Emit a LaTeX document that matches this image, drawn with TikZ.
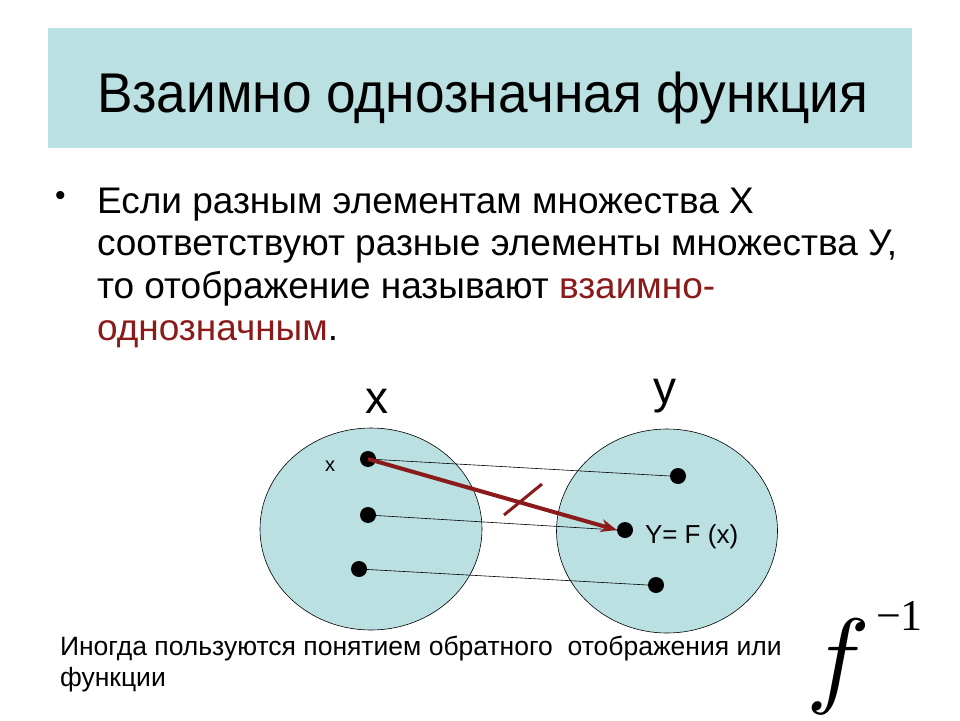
\documentclass[tikz,border=0pt]{standalone}
\usepackage{fontspec}
\usetikzlibrary{shapes.geometric,arrows.meta}
\setmainfont{Liberation Sans}
\newfontfamily\timesf{Liberation Serif}
\definecolor{teal1}{HTML}{BAE0E1}
\definecolor{dred}{HTML}{8B1A1A}
\begin{document}
\begin{tikzpicture}[x=1pt,y=-1pt,
  txt/.style={anchor=base west,inner sep=0pt,outer sep=0pt},
  dotn/.style={circle,fill=black,inner sep=0pt,minimum size=16pt},
  setell/.style={ellipse,draw=black,fill=teal1,line width=0.6pt,inner sep=0pt},
  mapline/.style={draw=black,line width=0.6pt}]
\useasboundingbox (0,0) rectangle (960,720);
\fill[white] (0,0) rectangle (960,720);
% title
\fill[teal1] (48,28) rectangle (912,148);
\node[txt] (title) at (97,112) {\addfontfeature{FakeStretch=0.95}\fontsize{56}{60}\selectfont Взаимно однозначная функция};
% bullet
\node[txt] (bul) at (55,205) {\fontsize{30}{36}\selectfont •};
\node[txt] (l1) at (97,213) {\fontsize{37}{42}\selectfont Если разным элементам множества X};
\node[txt] (l2) at (97,255) {\fontsize{37}{42}\selectfont соответствуют разные элементы множества У,};
\node[txt] (l3) at (97,298) {\fontsize{37}{42}\selectfont то отображение называют \textcolor{dred}{взаимно-}};
\node[txt] (l4) at (97,340) {\fontsize{37}{42}\selectfont \textcolor{dred}{однозначным}.};
% sets
\node[setell,minimum width=222pt,minimum height=202pt] (X) at (371,529) {};
\node[setell,minimum width=221pt,minimum height=204pt] (Y) at (667,531) {};
\node[inner sep=0pt] (xl) at (377,401) {\fontsize{46}{50}\selectfont x};
\node[inner sep=0pt] (yl) at (665,396) {\fontsize{46}{50}\selectfont y};
% dots
\node[dotn] (d1) at (368,459) {};
\node[dotn] (d2) at (368,515) {};
\node[dotn] (d3) at (359,569) {};
\node[dotn] (e1) at (678,476) {};
\node[dotn] (e2) at (625,530) {};
\node[dotn] (e3) at (656,585) {};
\node[inner sep=0pt] (xs) at (330,466) {\fontsize{20}{24}\selectfont x};
\node[txt] (fx) at (645,543) {\fontsize{26}{28}\selectfont Y= F (x)};
% maps
\draw[mapline] (d1.center) -- (e1.west);
\draw[mapline] (d2.center) -- (e2.west);
\draw[mapline] (d3.center) -- (e3.west);
\draw[dred,line width=4pt,-{Stealth[length=16pt,width=13pt]}] (d1.center) -- (e2.west);
\coordinate (c1) at (504,515);
\coordinate (c2) at (542,484);
\draw[dred,line width=3pt] (c1) -- (c2);
% bottom
\node[txt] (b1) at (60,655) {\fontsize{26.5}{28}\selectfont Иногда пользуются понятием обратного\ \ отображения или};
\node[txt] (b2) at (60,686) {\fontsize{26.5}{28}\selectfont функции};
\node[txt] (f) at (806,693) {\scalebox{10.7}{$f$}};
\node[txt] (m1) at (876,630) {\timesf\fontsize{44}{44}\selectfont −1};
\end{tikzpicture}
\end{document}
